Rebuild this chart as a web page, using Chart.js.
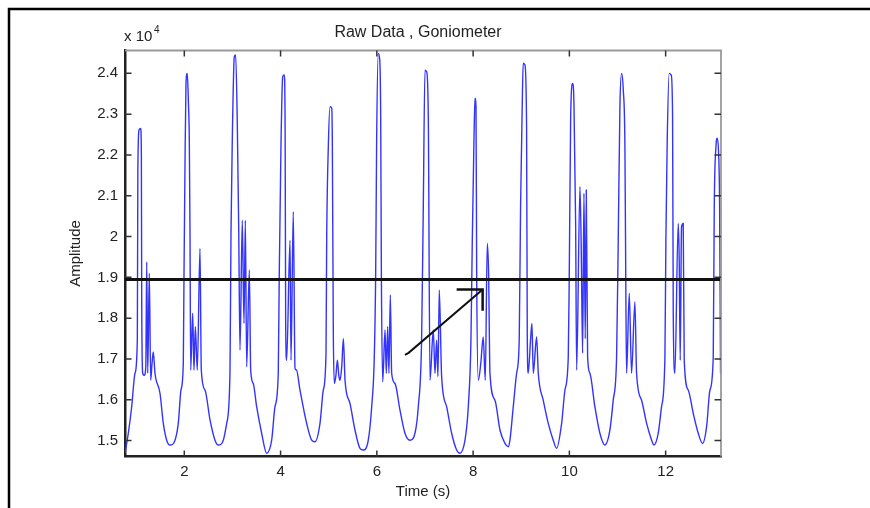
<!DOCTYPE html>
<html>
<head>
<meta charset="utf-8">
<title>Raw Data , Goniometer</title>
<script src="https://cdn.jsdelivr.net/npm/chart.js@4.4.1/dist/chart.umd.min.js"></script>
<style>
  html, body { margin: 0; padding: 0; background: #fff; }
  canvas { display: block; }
</style>
</head>
<body>
<canvas id="goniometerChart" width="870" height="508"></canvas>
<script>
// goniometer signal, amplitude in units of 10^4
const timeS = [
  0.768, 0.837, 0.907, 0.976, 1.024, 1.035, 1.059, 1.094, 1.108, 1.115, 1.136, 1.165, 1.20, 1.219, 1.24, 1.273, 1.302, 1.33, 1.356, 1.391, 1.495, 1.564, 1.634, 1.703,
  1.807, 1.875, 1.931, 1.979, 1.994, 2.014, 2.035, 2.062, 2.085, 2.104, 2.118, 2.133, 2.174, 2.201, 2.229, 2.27, 2.326, 2.353, 2.43, 2.534, 2.638, 2.707,
  2.81, 2.88, 2.949, 2.97, 2.997, 3.039, 3.067, 3.101, 3.13, 3.157, 3.205, 3.24, 3.268, 3.296, 3.351, 3.379, 3.433, 3.503, 3.607, 3.711,
  3.815, 3.884, 3.952, 3.973, 4.008, 4.044, 4.077, 4.095, 4.106, 4.127, 4.196, 4.217, 4.264, 4.30, 4.33, 4.403, 4.542, 4.646, 4.715,
  4.819, 4.888, 4.944, 4.958, 4.992, 5.027, 5.062, 5.075, 5.096, 5.117, 5.15, 5.18, 5.21, 5.235, 5.27, 5.305, 5.339, 5.442, 5.546, 5.65, 5.718,
  5.822, 5.893, 5.947, 5.976, 5.996, 6.03, 6.06, 6.08, 6.094, 6.122, 6.17, 6.197, 6.225, 6.252, 6.28, 6.308, 6.377, 6.48, 6.584, 6.688,
  6.792, 6.861, 6.93, 6.965, 7.0, 7.035, 7.069, 7.104, 7.173, 7.208, 7.242, 7.27, 7.297, 7.346, 7.45, 7.554, 7.658, 7.727,
  7.831, 7.9, 7.955, 7.983, 8.018, 8.039, 8.06, 8.074, 8.108, 8.16, 8.21, 8.253, 8.294, 8.322, 8.35, 8.454, 8.558, 8.662, 8.73,
  8.765, 8.834, 8.904, 8.958, 8.986, 9.02, 9.041, 9.076, 9.111, 9.125, 9.145, 9.195, 9.222, 9.25, 9.319, 9.354, 9.457, 9.561, 9.665, 9.735,
  9.839, 9.908, 9.977, 9.998, 10.027, 10.068, 10.095, 10.13, 10.151, 10.22, 10.247, 10.275, 10.303, 10.33, 10.351, 10.379, 10.427, 10.53, 10.634, 10.738,
  10.842, 10.911, 10.981, 11.015, 11.05, 11.085, 11.12, 11.154, 11.175, 11.189, 11.244, 11.292, 11.361, 11.396, 11.5, 11.605, 11.709, 11.757,
  11.846, 11.915, 11.985, 12.005, 12.033, 12.074, 12.116, 12.144, 12.158, 12.192, 12.261, 12.282, 12.303, 12.33, 12.365, 12.386, 12.469, 12.573, 12.677, 12.768,
  12.851, 12.92, 12.989, 13.01, 13.045, 13.072, 13.1, 13.12, 13.141
];
const amplitude = [
  1.469, 1.518, 1.583, 1.665, 1.746, 2.16, 2.261, 2.265, 2.2, 1.852, 1.665, 1.66, 1.68, 1.938, 1.665, 1.91, 1.648, 1.69, 1.717, 1.665, 1.616, 1.542, 1.501, 1.489,
  1.501, 1.542, 1.624, 1.689, 1.91, 2.171, 2.375, 2.40, 2.33, 2.237, 2.016, 1.673, 1.812, 1.673, 1.779, 1.673, 1.971, 1.673, 1.624, 1.551, 1.501, 1.489,
  1.501, 1.542, 1.665, 2.008, 2.237, 2.441, 2.445, 2.277, 2.024, 1.722, 2.04, 1.787, 2.04, 1.681, 1.918, 1.673, 1.64, 1.583, 1.518, 1.469,
  1.501, 1.583, 1.665, 1.91, 2.22, 2.392, 2.396, 2.25, 1.787, 1.697, 1.991, 1.697, 2.061, 1.677, 1.673, 1.624, 1.542, 1.501, 1.497,
  1.542, 1.624, 1.714, 1.991, 2.22, 2.318, 2.315, 2.237, 1.763, 1.64, 1.66, 1.697, 1.66, 1.648, 1.68, 1.75, 1.648, 1.591, 1.526, 1.481, 1.477,
  1.501, 1.583, 1.705, 1.91, 2.237, 2.449, 2.433, 2.294, 1.91, 1.644, 1.771, 1.665, 1.779, 1.665, 1.857, 1.665, 1.64, 1.575, 1.518, 1.501,
  1.518, 1.583, 1.746, 2.073, 2.408, 2.404, 2.294, 1.648, 1.771, 1.665, 1.746, 1.657, 1.869, 1.657, 1.583, 1.518, 1.477, 1.469,
  1.501, 1.583, 1.746, 1.991, 2.237, 2.339, 2.318, 1.91, 1.648, 1.69, 1.754, 1.648, 1.983, 1.91, 1.665, 1.599, 1.526, 1.493, 1.485,
  1.501, 1.583, 1.665, 1.746, 2.073, 2.318, 2.425, 2.421, 2.269, 1.763, 1.665, 1.75, 1.787, 1.665, 1.754, 1.665, 1.599, 1.542, 1.501, 1.481,
  1.542, 1.624, 1.705, 1.91, 2.294, 2.375, 2.326, 2.032, 1.673, 2.122, 1.967, 1.714, 2.106, 1.75, 2.114, 1.705, 1.665, 1.583, 1.518, 1.489,
  1.526, 1.599, 1.705, 1.991, 2.318, 2.40, 2.359, 2.22, 1.828, 1.665, 1.861, 1.665, 1.84, 1.665, 1.599, 1.542, 1.501, 1.489,
  1.518, 1.583, 1.705, 1.991, 2.237, 2.40, 2.396, 2.294, 1.812, 1.665, 2.032, 1.942, 1.697, 2.024, 2.032, 1.697, 1.624, 1.567, 1.518, 1.493,
  1.534, 1.624, 1.705, 2.073, 2.22, 2.241, 2.204, 2.09, 1.665
];

const xTicks = [2, 4, 6, 8, 10, 12];
const yTicks = [1.5, 1.6, 1.7, 1.8, 1.9, 2, 2.1, 2.2, 2.3, 2.4];
const xRange = [0.768, 13.15];
const yRange = [1.461, 2.456];

// horizontal threshold and the hand drawn arrow
const thresholdLevel = 1.895;
const arrowShaftX = [6.584, 6.66, 8.198];
const arrowShaftY = [1.71, 1.715, 1.87];
const arrowHeadX = [7.658, 8.198, 8.198];
const arrowHeadY = [1.87, 1.87, 1.818];

const toPoints = (xs, ys) => xs.map((v, i) => ({ x: v, y: ys[i] }));

const FONT = 'Liberation Sans, Arial, sans-serif';
const TEXT = '#222';

const matlabFrame = {
    id: 'matlabFrame',
    afterDraw(chart) {
        const { ctx, chartArea: a, scales: { x, y } } = chart;
        ctx.save();

        // top and right edges of the axes box
        ctx.strokeStyle = '#999';
        ctx.lineWidth = 1.8;
        ctx.beginPath();
        ctx.moveTo(a.left, a.top);
        ctx.lineTo(a.right, a.top);
        ctx.lineTo(a.right, a.bottom);
        ctx.stroke();

        // inward ticks on all four sides
        ctx.strokeStyle = '#333';
        ctx.lineWidth = 1.5;
        ctx.beginPath();
        xTicks.forEach(v => {
            const px = x.getPixelForValue(v);
            ctx.moveTo(px, a.bottom); ctx.lineTo(px, a.bottom - 6);
            ctx.moveTo(px, a.top); ctx.lineTo(px, a.top + 6);
        });
        yTicks.forEach(v => {
            const py = y.getPixelForValue(v);
            ctx.moveTo(a.left, py); ctx.lineTo(a.left + 6.5, py);
            ctx.moveTo(a.right, py); ctx.lineTo(a.right - 6.5, py);
        });
        ctx.stroke();

        // figure edge lines
        ctx.strokeStyle = '#000';
        ctx.lineWidth = 2.5;
        ctx.beginPath();
        ctx.moveTo(870, 9);
        ctx.lineTo(9, 9);
        ctx.lineTo(9, 508);
        ctx.stroke();

        ctx.fillStyle = TEXT;
        ctx.textAlign = 'center';
        ctx.textBaseline = 'alphabetic';
        ctx.font = '16px ' + FONT;
        ctx.fillText('Raw Data , Goniometer', 418, 37);
        ctx.font = '15px ' + FONT;
        ctx.fillText('Time (s)', (a.left + a.right) / 2, 496);

        ctx.textAlign = 'left';
        ctx.fillText('x 10', 124, 41);
        ctx.font = '10px ' + FONT;
        ctx.fillText('4', 154, 33);

        ctx.font = '15px ' + FONT;
        ctx.translate(80, (a.top + a.bottom) / 2);
        ctx.rotate(-Math.PI / 2);
        ctx.textAlign = 'center';
        ctx.fillText('Amplitude', 0, 0);
        ctx.restore();
    }
};

const ctx = document.getElementById('goniometerChart').getContext('2d');

const chart = new Chart(ctx, {
    type: 'line',
    data: {
        datasets: [
            {
                data: toPoints(arrowShaftX, arrowShaftY),
                borderColor: '#111',
                borderWidth: 2,
                pointRadius: 0
            },
            {
                data: toPoints(arrowHeadX, arrowHeadY),
                borderColor: '#111',
                borderWidth: 2.5,
                pointRadius: 0
            },
            {
                data: toPoints(xRange, [thresholdLevel, thresholdLevel]),
                borderColor: '#111',
                borderWidth: 3,
                pointRadius: 0
            },
            {
                data: toPoints(timeS, amplitude),
                borderColor: '#3333ff',
                borderWidth: 1.4,
                pointRadius: 0,
                cubicInterpolationMode: 'monotone'
            }
        ]
    },
    options: {
        responsive: false,
        animation: false,
        events: [],
        layout: {
            padding: { top: 50.5, right: 149, left: 0, bottom: 0 }
        },
        plugins: {
            legend: { display: false },
            tooltip: { enabled: false }
        },
        scales: {
            x: {
                type: 'linear',
                min: xRange[0],
                max: xRange[1],
                afterFit: s => { s.height = 51.5; },
                afterBuildTicks: s => { s.ticks = xTicks.map(v => ({ value: v })); },
                grid: { display: false, drawTicks: false },
                border: { display: true, color: '#222', width: 2.5 },
                ticks: {
                    padding: 6,
                    autoSkip: false,
                    maxRotation: 0,
                    color: TEXT,
                    font: { family: FONT, size: 15 },
                    callback: v => String(v)
                }
            },
            y: {
                type: 'linear',
                min: yRange[0],
                max: yRange[1],
                afterFit: s => { s.width = 125; },
                afterBuildTicks: s => { s.ticks = yTicks.map(v => ({ value: v })); },
                grid: { display: false, drawTicks: false },
                border: { display: true, color: '#222', width: 2.5 },
                ticks: {
                    padding: 7,
                    autoSkip: false,
                    color: TEXT,
                    font: { family: FONT, size: 15 },
                    callback: v => String(v)
                }
            }
        }
    },
    plugins: [matlabFrame]
});
</script>
</body>
</html>
